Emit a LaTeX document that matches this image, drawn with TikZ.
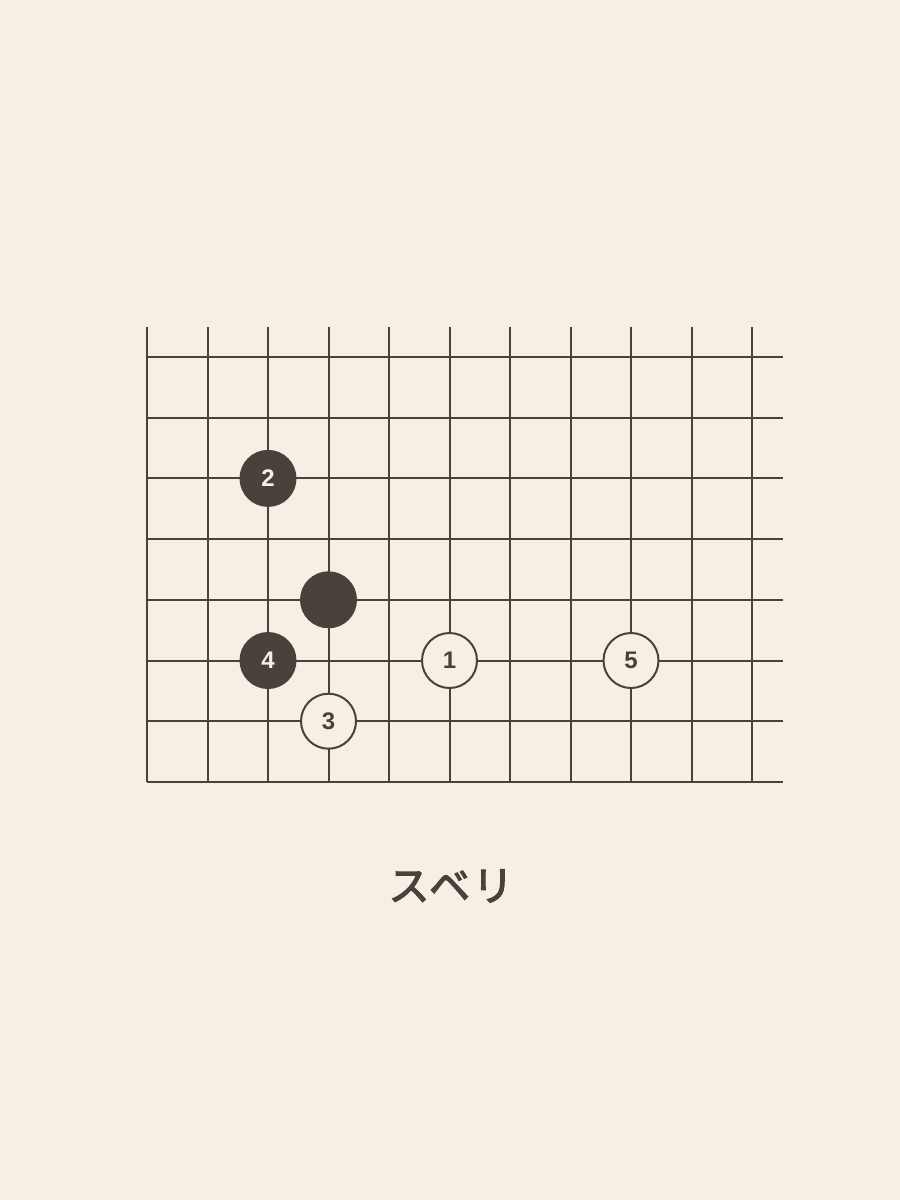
\documentclass[tikz,border=0pt]{standalone}
\usepackage{fontspec}
\usepackage{xcolor}
\setmainfont{Liberation Sans}
\newfontfamily\cjk{Noto Sans CJK JP}[FakeBold=3, LetterSpace=6]
\definecolor{paper}{HTML}{F5EFE5}
\definecolor{ink}{HTML}{4A423A}
\tikzset{
    stone/.style = {align=center, inner sep=0pt, text centered, circle, minimum size=55pt, line width=2pt},
    black_stone/.style = {stone, draw=ink, fill=ink, text=paper},
    white_stone/.style = {stone, draw=ink, fill=paper, text=ink},
    gridline/.style = {draw=ink, line width=2pt}
}

\begin{document}
\begin{tikzpicture}[x=1pt, y=-1pt, font=\bfseries\fontsize{24}{30}\selectfont]
    \fill[paper] (0,0) rectangle (900,1200);
    \useasboundingbox (0,0) rectangle (900,1200);
    % board lines
    \foreach \c in {0,...,10}
        \draw[gridline] (147+60.5*\c,327) -- (147+60.5*\c,782);
    \foreach \r in {0,...,7}
        \draw[gridline] (147,357+60.7*\r) -- (783,357+60.7*\r);
    % stones
    \node [black_stone] (s2) at (147+60.5*2,357+60.7*2) {2};
    \node [black_stone] (s0) at (147+60.5*3,357+60.7*4) {};
    \node [black_stone] (s4) at (147+60.5*2,357+60.7*5) {4};
    \node [white_stone] (s1) at (147+60.5*5,357+60.7*5) {1};
    \node [white_stone] (s3) at (147+60.5*3,357+60.7*6) {3};
    \node [white_stone] (s5) at (147+60.5*8,357+60.7*5) {5};
    \node [text=ink, font=\cjk\fontsize{41}{48}\selectfont] (title) at (451,886) {スベリ};
\end{tikzpicture}
\end{document}
